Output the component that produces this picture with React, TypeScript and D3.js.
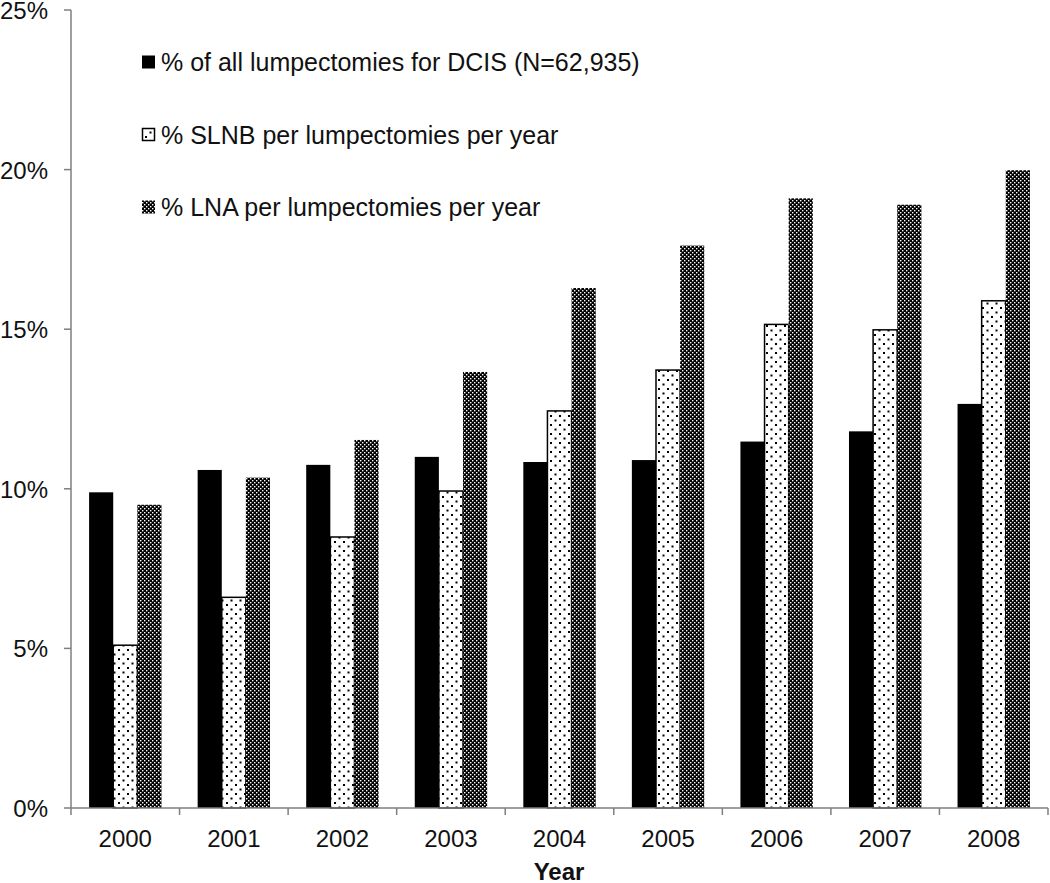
import React from "react";
import * as d3 from "d3";

const years = ["2000", "2001", "2002", "2003", "2004", "2005", "2006", "2007", "2008"];
const dcisPct = [9.89, 10.59, 10.75, 11.0, 10.84, 10.9, 11.48, 11.8, 12.66];
const slnbPct = [5.1, 6.6, 8.49, 9.93, 12.44, 13.72, 15.15, 14.98, 15.89];
const lnaPct = [9.5, 10.35, 11.53, 13.66, 16.29, 17.62, 19.1, 18.9, 19.98];
const seriesNames = [
  "% of all lumpectomies for DCIS (N=62,935)",
  "% SLNB per lumpectomies per year",
  "% LNA per lumpectomies per year",
];
const yTicks = [0, 5, 10, 15, 20, 25];

const W = 1050;
const H = 883;
const left = 71;
const right = 1048;
const top = 10;
const bottom = 808;

export default function App() {
  const x = d3.scaleBand<string>().domain(years).range([left, right]).paddingInner(0).paddingOuter(0);
  const y = d3.scaleLinear().domain([0, 25]).range([bottom, top]);
  const inner = d3.scaleBand<string>().domain(["a", "b", "c"]).range([0, x.bandwidth()]).paddingOuter(0.75).paddingInner(0);
  const series = [dcisPct, slnbPct, lnaPct];
  const fills = ["#000", "url(#dots)", "url(#lna)"];
  const font = "Arial, 'Liberation Sans', sans-serif";
  const boundaries = d3.range(years.length + 1).map((i) => left + i * x.step());
  const legendY = [62, 135, 207];

  return (
    <svg width={W} height={H} style={{ position: "absolute", left: 0, top: 0, background: "#fff" }}>
      <defs>
        <pattern id="dots" width="9" height="9" patternUnits="userSpaceOnUse">
          <rect width="9" height="9" fill="#fff" />
          <rect x="1" y="1" width="2" height="2" fill="#000" />
          <rect x="5.5" y="5.5" width="2" height="2" fill="#000" />
        </pattern>
        <pattern id="lna" width="4" height="4" patternUnits="userSpaceOnUse">
          <rect width="4" height="4" fill="#000" />
          <rect x="0" y="0" width="1.4" height="1.4" fill="#fff" />
          <rect x="2" y="2" width="1.4" height="1.4" fill="#fff" />
        </pattern>
      </defs>
      <rect width={W} height={H} fill="#fff" />
      {series.map((vals, si) =>
        vals.map((v, i) => {
          const bx = (x(years[i]) as number) + (inner(["a", "b", "c"][si]) as number);
          return (
            <rect
              key={`${si}-${i}`}
              x={bx}
              y={y(v)}
              width={inner.bandwidth()}
              height={bottom - y(v)}
              fill={fills[si]}
              stroke={si === 1 ? "#000" : "none"}
              strokeWidth={si === 1 ? 1.5 : 0}
            />
          );
        })
      )}
      {/* y axis */}
      <line x1={left} x2={left} y1={top} y2={bottom} stroke="#7f7f7f" strokeWidth={1.5} />
      {yTicks.map((t) => (
        <g key={t}>
          <line x1={left - 7} x2={left} y1={y(t)} y2={y(t)} stroke="#7f7f7f" strokeWidth={1.5} />
          <text x={48} y={y(t) + 9} textAnchor="end" fontFamily={font} fontSize={24} fill="#111">
            {t}%
          </text>
        </g>
      ))}
      {/* x axis */}
      <line x1={left} x2={right} y1={bottom} y2={bottom} stroke="#7f7f7f" strokeWidth={1.5} />
      {boundaries.map((bx, i) => (
        <line key={i} x1={bx} x2={bx} y1={bottom} y2={bottom + 7} stroke="#7f7f7f" strokeWidth={1.5} />
      ))}
      {years.map((yr) => (
        <text
          key={yr}
          x={(x(yr) as number) + x.bandwidth() / 2}
          y={847}
          textAnchor="middle"
          fontFamily={font}
          fontSize={24}
          fill="#111"
        >
          {yr}
        </text>
      ))}
      <text x={559} y={880} textAnchor="middle" fontFamily={font} fontSize={24} fontWeight="bold" fill="#111">
        Year
      </text>
      {/* legend */}
      {seriesNames.map((name, i) => (
        <g key={name}>
          <rect
            x={i === 1 ? 142.5 : 142}
            y={legendY[i] - 6.5}
            width={i === 1 ? 12 : 13}
            height={i === 1 ? 12 : 13}
            fill={fills[i]}
            stroke={i === 1 ? "#000" : "none"}
            strokeWidth={1.5}
          />
          <text x={161} y={legendY[i] + 9} fontFamily={font} fontSize={25} fill="#111">
            {name}
          </text>
        </g>
      ))}
    </svg>
  );
}
